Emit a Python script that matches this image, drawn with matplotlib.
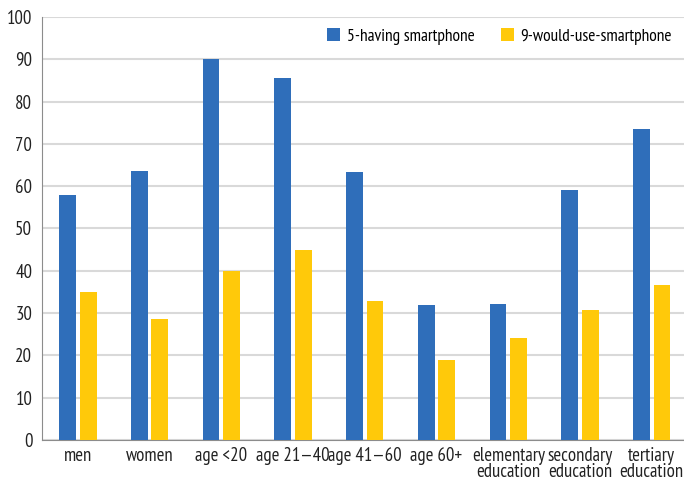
import numpy as np
import matplotlib
matplotlib.use("Agg")
import matplotlib.pyplot as plt

categories = ["men", "women", "age <20", "age 21\u201440", "age 41\u201460", "age 60+",
              "elementary\neducation", "secondary\neducation", "tertiary\neducation"]
having = [57.8, 63.5, 90.0, 85.6, 63.4, 31.8, 32.2, 59.2, 73.6]
would_use = [35.1, 28.5, 40.0, 44.8, 32.9, 19.0, 24.2, 30.8, 36.7]
labels = ["5-having smartphone", "9-would-use-smartphone"]

plt.rcParams["font.family"] = ["PT Sans Narrow", "DejaVu Sans"]

fig = plt.figure(figsize=(6.84, 4.82), dpi=100)
ax = fig.add_axes([0.0614, 0.087, 0.9386, 0.878])

x = np.arange(len(categories))
w = 0.235
ax.bar(x - 0.143, having, w, color="#2f6eba", label=labels[0], zorder=3)
ax.bar(x + 0.143, would_use, w, color="#ffc90a", label=labels[1], zorder=3)

ax.set_ylim(0, 100)
ax.set_xlim(-0.5, 8.45)
ax.set_yticks(range(0, 101, 10))
ax.set_xticks(x)
ax.set_xticklabels(categories, linespacing=0.85)
ax.tick_params(axis="both", length=0, labelsize=13.5, colors="#222222")
ax.tick_params(axis="y", pad=7)
ax.tick_params(axis="x", pad=5)
ax.grid(axis="y", color="#d9d9d9", linewidth=1.5, zorder=0)
for s in ["top", "right"]:
    ax.spines[s].set_visible(False)
ax.spines["left"].set_color("#8c8c8c")
ax.spines["bottom"].set_color("#8c8c8c")
ax.spines["left"].set_zorder(4)

ax.legend(loc="upper right", bbox_to_anchor=(1.006, 1.01), ncol=2, frameon=False,
          fontsize=12.5, handlelength=0.75, handleheight=0.75, handletextpad=0.4,
          columnspacing=1.5)

fig.savefig("out.png", dpi=100)
